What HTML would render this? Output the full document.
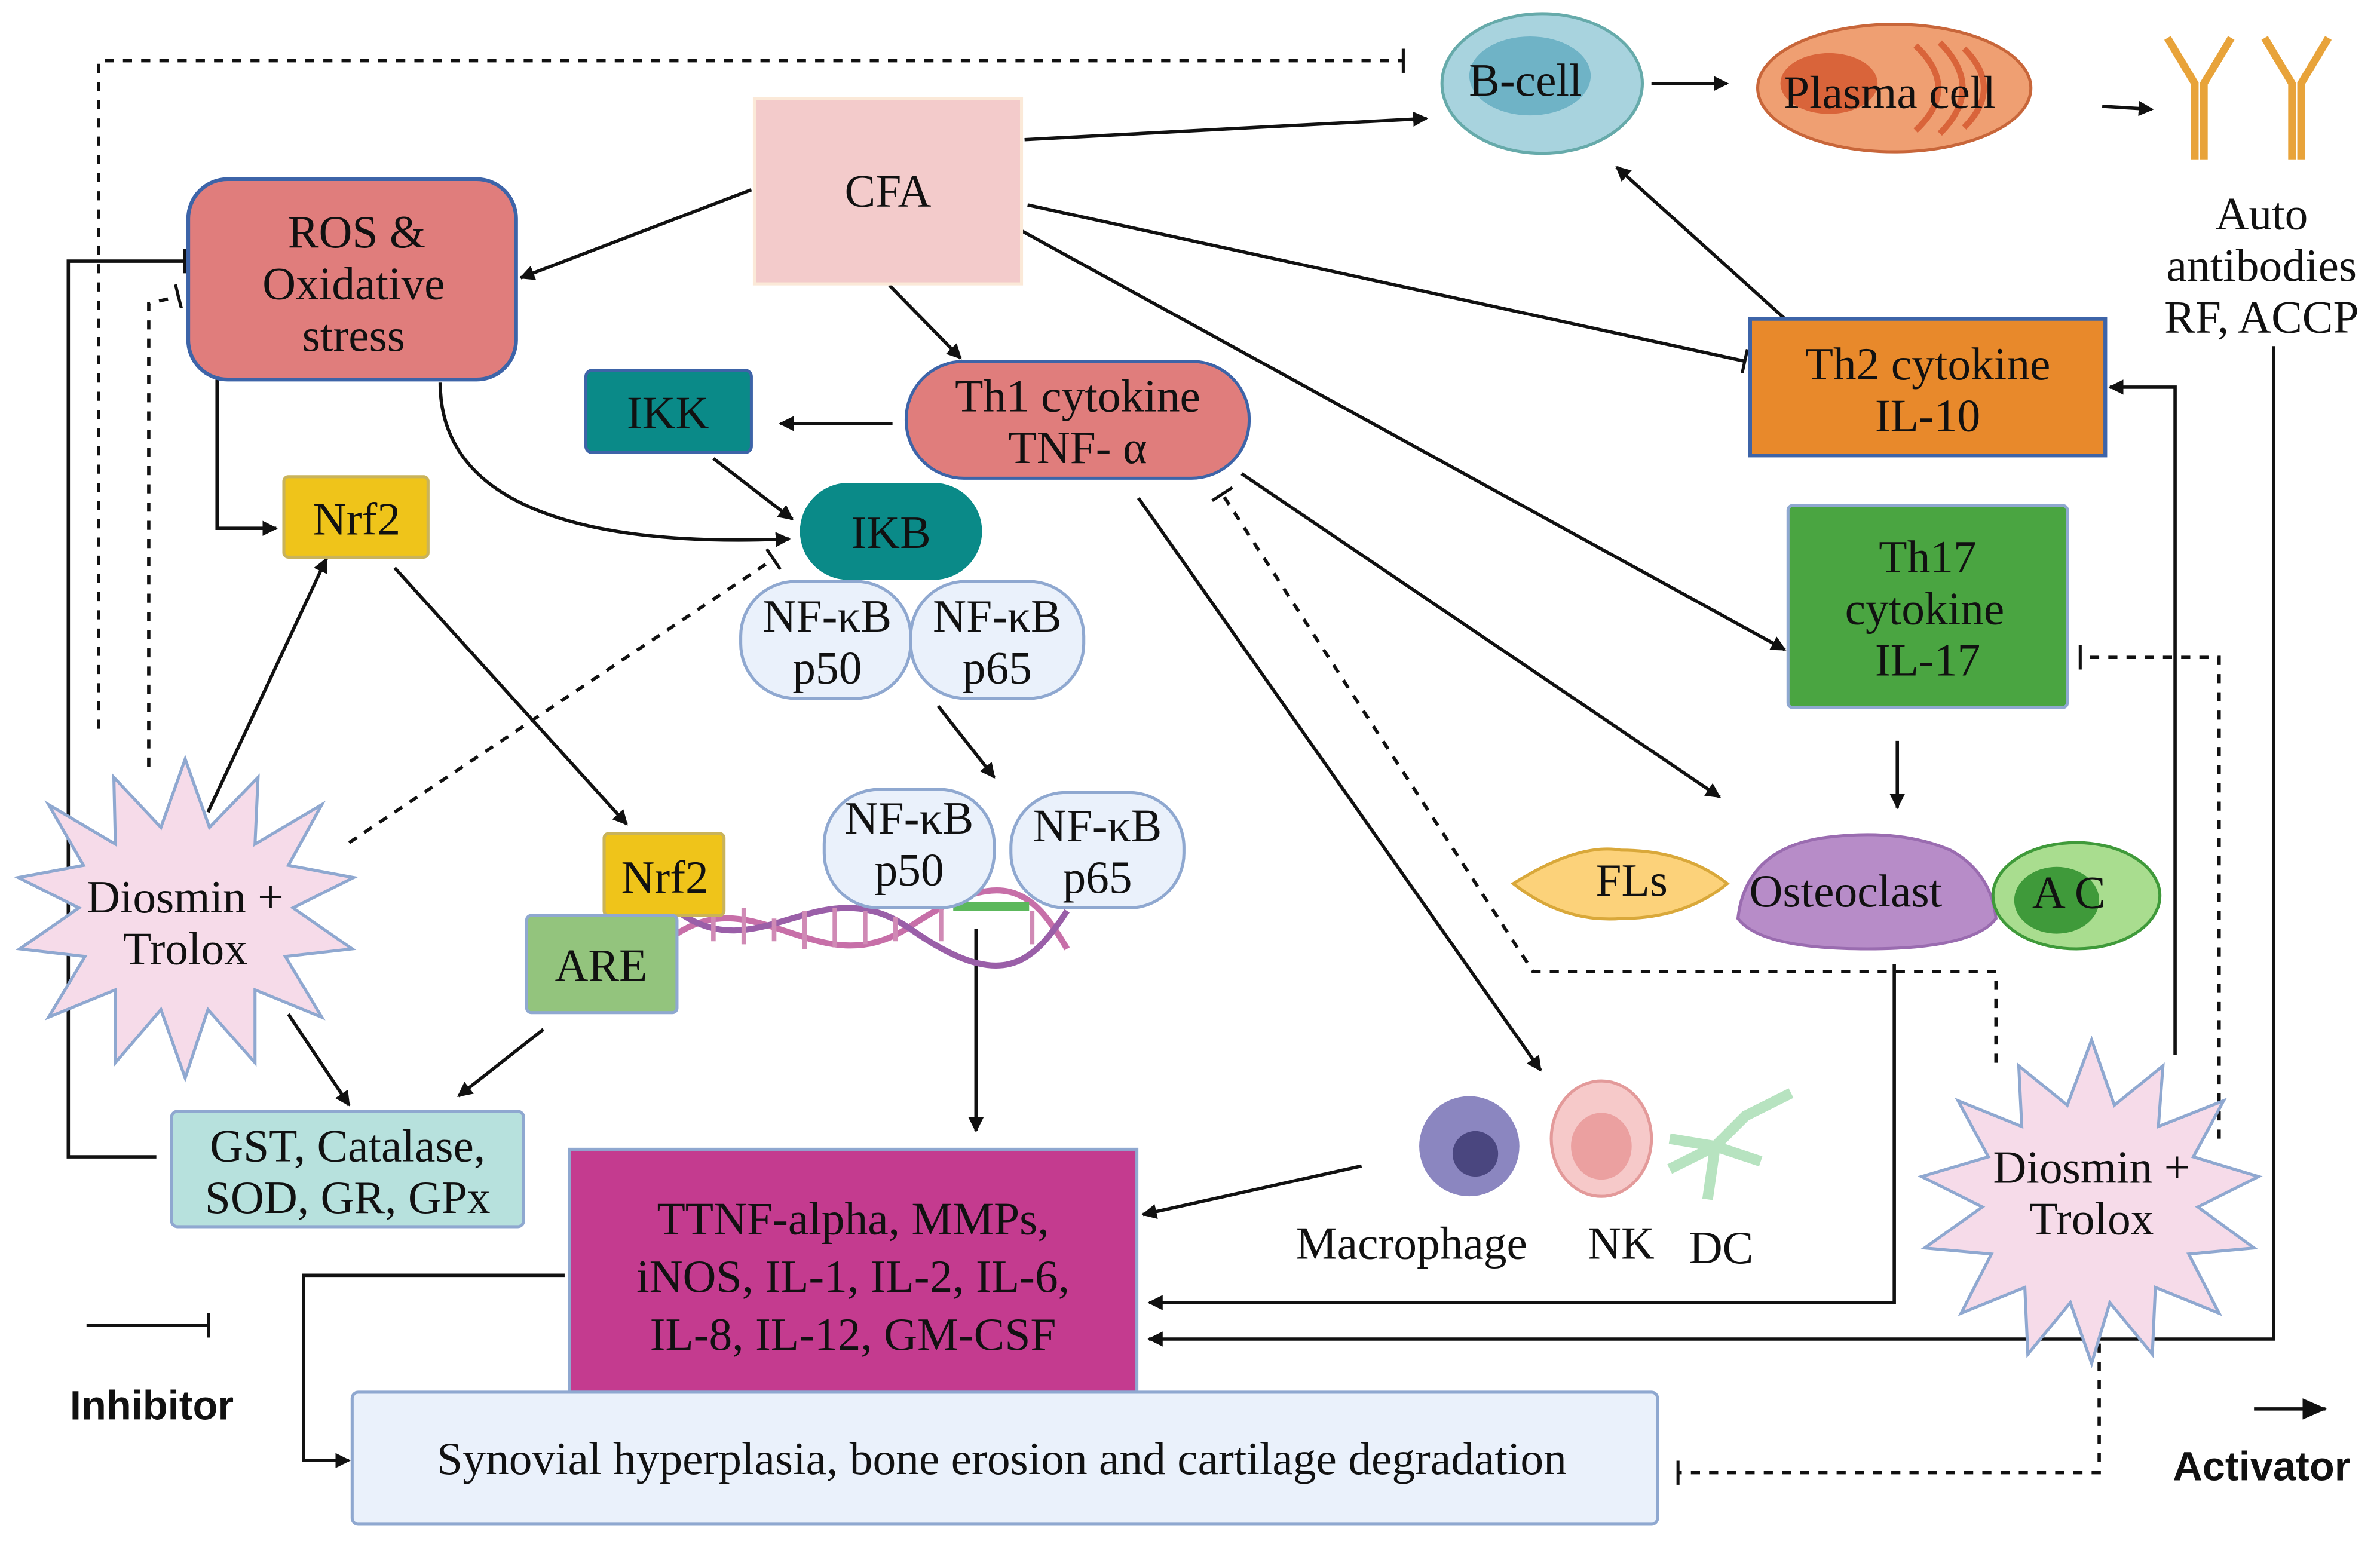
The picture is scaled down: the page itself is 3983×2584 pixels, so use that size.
<!DOCTYPE html>
<html><head><meta charset="utf-8"><style>
html,body{margin:0;padding:0;background:#fff}
svg{display:block}
text{font-family:"Liberation Serif",serif;font-size:30.5px;fill:#111;text-anchor:middle}
.s{font-family:"Liberation Sans",sans-serif;font-weight:bold;font-size:27px}
</style></head><body>
<svg width="3983" height="2584" viewBox="0 0 1568 1017" preserveAspectRatio="none" xmlns="http://www.w3.org/2000/svg">
<defs>
<marker id="a" markerWidth="10" markerHeight="10" refX="9" refY="5" orient="auto" markerUnits="userSpaceOnUse" viewBox="0 0 10 10"><path d="M0,0 L10,5 L0,10 z" fill="#111"/></marker>
<marker id="a2" markerWidth="16" markerHeight="14" refX="15" refY="7" orient="auto" markerUnits="userSpaceOnUse"><path d="M0,0 L16,7 L0,14 z" fill="#111"/></marker>
<marker id="t" markerWidth="4" markerHeight="16" refX="2" refY="8" orient="auto" markerUnits="userSpaceOnUse"><rect x="0.5" y="0" width="2" height="16" fill="#111"/></marker>
</defs>
<g stroke="#111" stroke-width="2.2" fill="none">
<path d="M65,480 V40 H925" stroke-dasharray="6,6" marker-end="url(#t)"/>
<path d="M98,505 V200 L118,195" stroke-dasharray="6,6" marker-end="url(#t)"/>
<path d="M230,555 L510,368" stroke-dasharray="6,6" marker-end="url(#t)"/>
<path d="M1315,700 V640 H1010 L805,325" stroke-dasharray="6,6" marker-end="url(#t)"/>
<path d="M1462,750 V433 H1370" stroke-dasharray="6,6" marker-end="url(#t)"/>
<path d="M1383,885 V970 H1105" stroke-dasharray="6,6" marker-end="url(#t)"/>
<path d="M103,762 H45 V172 H122" marker-end="url(#t)"/>
<path d="M675,92 L940,78" marker-end="url(#a)"/>
<path d="M1088,55 H1138" marker-end="url(#a)"/>
<path d="M1385,70 L1418,72" marker-end="url(#a)"/>
<path d="M495,125 L343,183" marker-end="url(#a)"/>
<path d="M586,188 L633,236" marker-end="url(#a)"/>
<path d="M677,135 L1150,238" marker-end="url(#t)"/>
<path d="M673,152 L1176,428" marker-end="url(#a)"/>
<path d="M1176,210 L1065,110" marker-end="url(#a)"/>
<path d="M1433,695 V255 H1390" marker-end="url(#a)"/>
<path d="M588,279 H514" marker-end="url(#a)"/>
<path d="M470,302 L522,342" marker-end="url(#a)"/>
<path d="M290,252 C290,340 400,360 520,355" marker-end="url(#a)"/>
<path d="M143,250 V348 H182" marker-end="url(#a)"/>
<path d="M137,535 L215,368" marker-end="url(#a)"/>
<path d="M260,374 L413,543" marker-end="url(#a)"/>
<path d="M618,465 L655,512" marker-end="url(#a)"/>
<path d="M643,612 V745" marker-end="url(#a)"/>
<path d="M190,668 L230,728" marker-end="url(#a)"/>
<path d="M358,678 L302,722" marker-end="url(#a)"/>
<path d="M750,328 L1015,705" marker-end="url(#a)"/>
<path d="M818,312 L1133,525" marker-end="url(#a)"/>
<path d="M1250,488 V532" marker-end="url(#a)"/>
<path d="M897,768 L753,800" marker-end="url(#a)"/>
<path d="M1248,635 V858 H757" marker-end="url(#a)"/>
<path d="M1498,228 V882 H757" marker-end="url(#a)"/>
<path d="M372,840 H200 V962 H230" marker-end="url(#a)"/>
<path d="M57,873 H138" marker-end="url(#t)"/>
<path d="M1485,928 H1532" marker-end="url(#a2)"/>
</g>
<rect x="497" y="65" width="176" height="122" fill="#f3cbcb" stroke="#fbe9d8" stroke-width="2"/>
<text x="585" y="136">CFA</text>
<rect x="124" y="118" width="216" height="132" rx="26" fill="#e07d7c" stroke="#3d64a8" stroke-width="2.5"/>
<text x="235" y="163">ROS &amp;</text><text x="233" y="197">Oxidative</text><text x="233" y="231">stress</text>
<rect x="386" y="244" width="109" height="54" rx="4" fill="#0a8a88" stroke="#3d64a8" stroke-width="2"/>
<text x="440" y="282">IKK</text>
<rect x="597" y="238" width="226" height="77" rx="38" fill="#e07d7c" stroke="#3d64a8" stroke-width="2"/>
<text x="710" y="271">Th1 cytokine</text><text x="710" y="305">TNF- α</text>
<rect x="527" y="318" width="120" height="64" rx="32" fill="#0a8a88"/>
<text x="587" y="361">IKB</text>
<rect x="488" y="383" width="112" height="77" rx="36" fill="#eaf1fb" stroke="#8fa8d0" stroke-width="2"/>
<text x="545" y="416">NF-κB</text><text x="545" y="450">p50</text>
<rect x="600" y="383" width="114" height="77" rx="36" fill="#eaf1fb" stroke="#8fa8d0" stroke-width="2"/>
<text x="657" y="416">NF-κB</text><text x="657" y="450">p65</text>
<rect x="187" y="314" width="95" height="53" rx="3" fill="#efc41a" stroke="#c9b35a" stroke-width="2"/>
<text x="235" y="352">Nrf2</text>
<g stroke-width="4" fill="none">
<path d="M446,615 C500,580 540,650 600,610 S680,585 703,625" stroke="#c76fa8"/>
<path d="M446,600 C500,640 540,570 600,612 S680,635 703,600" stroke="#9a5fa8"/>
</g>
<g stroke="#d08ab5" stroke-width="3">
<path d="M470,600V620M490,598V622M510,605V620M530,600V625M550,598V624M570,600V622M590,604V620M620,598V620M680,600V622"/>
</g>
<rect x="628" y="594" width="50" height="6" fill="#5cb85c"/>
<rect x="398" y="549" width="79" height="54" rx="3" fill="#efc41a" stroke="#c9b35a" stroke-width="2"/>
<text x="438" y="588">Nrf2</text>
<rect x="347" y="603" width="99" height="64" rx="3" fill="#93c47d" stroke="#8fa8d0" stroke-width="2"/>
<text x="396" y="646">ARE</text>
<rect x="543" y="520" width="112" height="78" rx="36" fill="#eaf1fb" stroke="#8fa8d0" stroke-width="2"/>
<text x="599" y="549">NF-κB</text><text x="599" y="583">p50</text>
<rect x="666" y="522" width="114" height="76" rx="36" fill="#eaf1fb" stroke="#8fa8d0" stroke-width="2"/>
<text x="723" y="554">NF-κB</text><text x="723" y="588">p65</text>
<polygon fill="#f6dbe9" stroke="#8fa8d0" stroke-width="2" points="122,500 138,545 170,512 168,556 212,530 190,570 233,578 193,598 232,625 188,630 212,670 168,652 168,700 137,665 122,710 106,665 76,700 76,652 32,670 56,630 13,625 52,598 12,578 55,570 32,530 76,556 75,512 106,545"/>
<text x="122" y="601">Diosmin +</text><text x="122" y="635">Trolox</text>
<rect x="113" y="732" width="232" height="76" rx="4" fill="#b7e1dd" stroke="#8fa8d0" stroke-width="2"/>
<text x="229" y="765">GST, Catalase,</text><text x="229" y="799">SOD, GR, GPx</text>
<rect x="375" y="757" width="374" height="160" fill="#c43b8f" stroke="#8fa8d0" stroke-width="2"/>
<text x="562" y="813">TTNF-alpha, MMPs,</text><text x="562" y="851">iNOS, IL-1, IL-2, IL-6,</text><text x="562" y="889">IL-8, IL-12, GM-CSF</text>
<rect x="232" y="917" width="860" height="87" rx="4" fill="#eaf1fb" stroke="#8fa8d0" stroke-width="2"/>
<text x="660" y="971">Synovial hyperplasia, bone erosion and cartilage degradation</text>
<ellipse cx="1016" cy="55" rx="66" ry="46" fill="#a8d3de" stroke="#6aa" stroke-width="2"/>
<ellipse cx="1008" cy="50" rx="40" ry="26" fill="#6fb3c6"/>
<text x="1005" y="63">B-cell</text>
<ellipse cx="1248" cy="58" rx="90" ry="42" fill="#ef9f72" stroke="#c8663a" stroke-width="2"/>
<ellipse cx="1205" cy="55" rx="32" ry="20" fill="#d9643a"/>
<path d="M1262,30 q30,28 0,56 M1278,28 q30,30 0,60 M1294,32 q26,26 0,52" stroke="#d9643a" stroke-width="4" fill="none"/>
<text x="1245" y="71">Plasma cell</text>
<g stroke="#e8a33a" stroke-width="5" fill="none">
<path d="M1446,105V55 L1428,25 M1452,105V55 L1470,25"/>
<path d="M1510,105V55 L1492,25 M1516,105V55 L1534,25"/>
</g>
<text x="1490" y="151">Auto</text><text x="1490" y="185">antibodies</text><text x="1490" y="219">RF, ACCP</text>
<rect x="1153" y="210" width="234" height="90" fill="#e8892b" stroke="#3d64a8" stroke-width="2.5"/>
<text x="1270" y="250">Th2 cytokine</text><text x="1270" y="284">IL-10</text>
<rect x="1178" y="333" width="184" height="133" rx="3" fill="#4aa541" stroke="#8fa8d0" stroke-width="2"/>
<text x="1270" y="377">Th17</text><text x="1268" y="411">cytokine</text><text x="1270" y="445">IL-17</text>
<path d="M997,582 Q1040,555 1068,560 Q1110,560 1138,582 Q1110,605 1068,605 Q1030,608 997,582z" fill="#fcd27a" stroke="#d9a83a" stroke-width="2"/>
<text x="1075" y="590">FLs</text>
<path d="M1145,605 Q1150,560 1200,552 Q1250,545 1285,560 Q1312,575 1315,605 Q1300,625 1230,625 Q1160,625 1145,605z" fill="#b78cc8" stroke="#9a6cb0" stroke-width="2"/>
<text x="1216" y="597">Osteoclast</text>
<ellipse cx="1368" cy="590" rx="55" ry="35" fill="#a9dd8f" stroke="#3f9a3a" stroke-width="2"/>
<ellipse cx="1355" cy="593" rx="28" ry="22" fill="#3f9a3a"/>
<text x="1363" y="598">A C</text>
<circle cx="968" cy="755" r="33" fill="#8b86c0"/><circle cx="972" cy="760" r="15" fill="#4a467f"/>
<ellipse cx="1055" cy="750" rx="33" ry="38" fill="#f6c9c9" stroke="#e39a9a" stroke-width="2"/><ellipse cx="1055" cy="755" rx="20" ry="22" fill="#eba0a0"/>
<path d="M1100,770 L1130,755 L1150,735 L1180,720 M1130,755 L1160,765 M1130,755 L1125,790 M1130,755 L1100,750" stroke="#b7e3c0" stroke-width="7" fill="none"/>
<text x="930" y="829">Macrophage</text><text x="1068" y="829">NK</text><text x="1134" y="832">DC</text>
<polygon fill="#f6dbe9" stroke="#8fa8d0" stroke-width="2" points="1378,685 1393,728 1425,702 1422,742 1465,725 1445,762 1488,775 1448,795 1485,822 1442,826 1462,865 1420,848 1418,892 1390,858 1378,898 1364,858 1336,892 1334,848 1292,865 1312,826 1268,822 1306,795 1266,775 1310,762 1290,725 1332,742 1330,702 1362,728"/>
<text x="1378" y="779">Diosmin +</text><text x="1378" y="813">Trolox</text>
<text class="s" x="100" y="935">Inhibitor</text>
<text class="s" x="1490" y="975">Activator</text>
</svg>
</body></html>
